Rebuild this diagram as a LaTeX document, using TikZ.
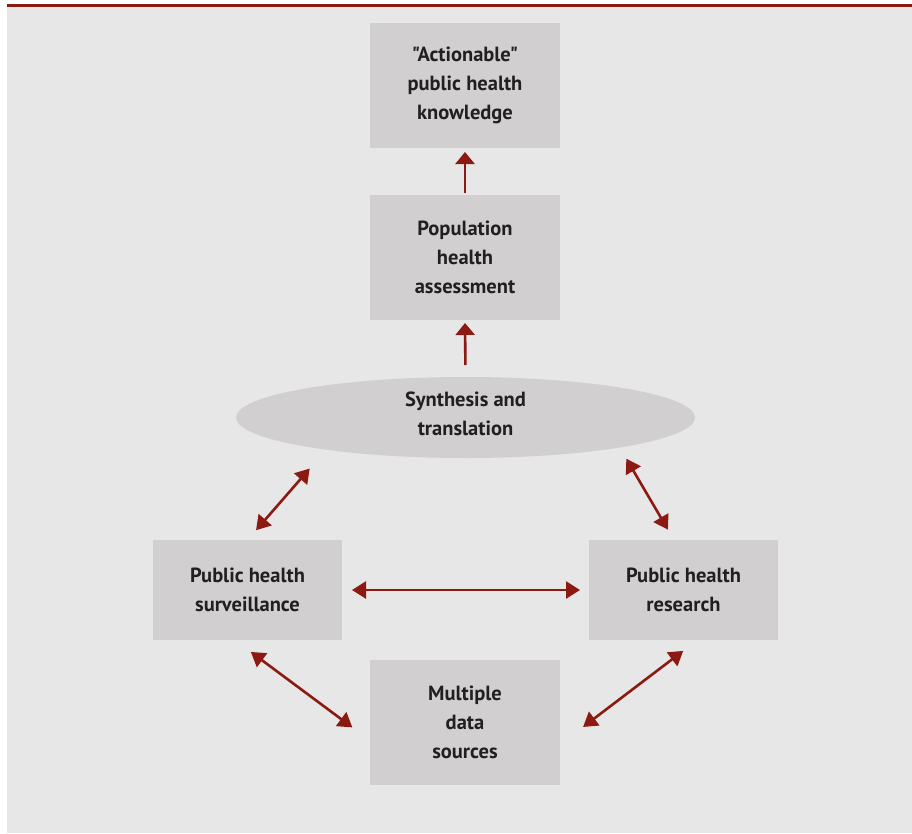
\documentclass[tikz,border=0pt]{standalone}
\usepackage{fontspec}
\setmainfont{PT Sans}[Ligatures=TeXOff]
\usetikzlibrary{arrows.meta,shapes.geometric,calc}
\definecolor{panelbg}{HTML}{E6E7E6}
\definecolor{boxfill}{HTML}{D2CFD0}
\definecolor{arrowred}{HTML}{8C1A12}
\definecolor{txt}{HTML}{231F20}
\begin{document}
\begin{tikzpicture}[x=1pt,y=-1pt,
  boxnode/.style={rectangle,fill=boxfill,draw=none,inner sep=0pt,outer sep=0pt,
    minimum width=190pt,minimum height=125pt,align=center,text=txt,
    font=\fontsize{20.5}{29}\selectfont\bfseries},
  sidebox/.style={boxnode,minimum width=189pt,minimum height=100pt},
  ellnode/.style={ellipse,fill=boxfill,draw=none,inner sep=0pt,outer sep=0pt,
    minimum width=459pt,minimum height=81pt,align=center,text=txt,
    font=\fontsize{20.5}{29}\selectfont\bfseries},
  arr/.style={draw=arrowred,line width=2.6pt,-{Triangle[width=19pt,length=12pt]}},
  darr/.style={draw=arrowred,line width=2.6pt,{Triangle[width=17pt,length=14pt]}-{Triangle[width=17pt,length=14pt]}}
]
\useasboundingbox (0,0) rectangle (912,833);
\fill[white] (0,0) rectangle (912,833);
\fill[panelbg] (7,7) rectangle (912,833);
\fill[arrowred] (7,4) rectangle (912,7);

\node[boxnode] (act) at (465,85.5) {"Actionable"\\public health\\knowledge};
\node[boxnode] (pop) at (465,257.5) {Population\\health\\assessment};
\node[ellnode] (synth) at (465.5,417.5) {\parbox{220pt}{\centering Synthesis and\\translation\par\vspace{8pt}}};
\node[sidebox] (surv) at (247.5,590) {Public health\\surveillance};
\node[sidebox] (res) at (683.5,590) {Public health\\research};
\node[boxnode] (data) at (465,722.5) {Multiple\\data\\sources};

\draw[arr,shorten <=2pt,shorten >=4pt] (pop.north) -- (act.south);
\draw[arr,shorten <=12pt,shorten >=3pt] (synth.north) -- (pop.south);
\draw[darr,shorten <=13pt,shorten >=25pt] (surv.north) -- (synth.193);
\draw[darr,shorten <=12pt,shorten >=13pt] ($(res.north)+(-9.5,0)$) -- (synth.349);
\draw[darr,shorten <=10pt,shorten >=9pt] (surv.east) -- (res.west);
\draw[darr,shorten <=20pt,shorten >=22pt] ($(surv.south)+(-12.7,0)$) -- ($(data.west)+(0,18)$);
\draw[darr,shorten <=18pt,shorten >=29pt] ($(res.south)+(14,0)$) -- ($(data.east)+(0,22)$);
\end{tikzpicture}
\end{document}
